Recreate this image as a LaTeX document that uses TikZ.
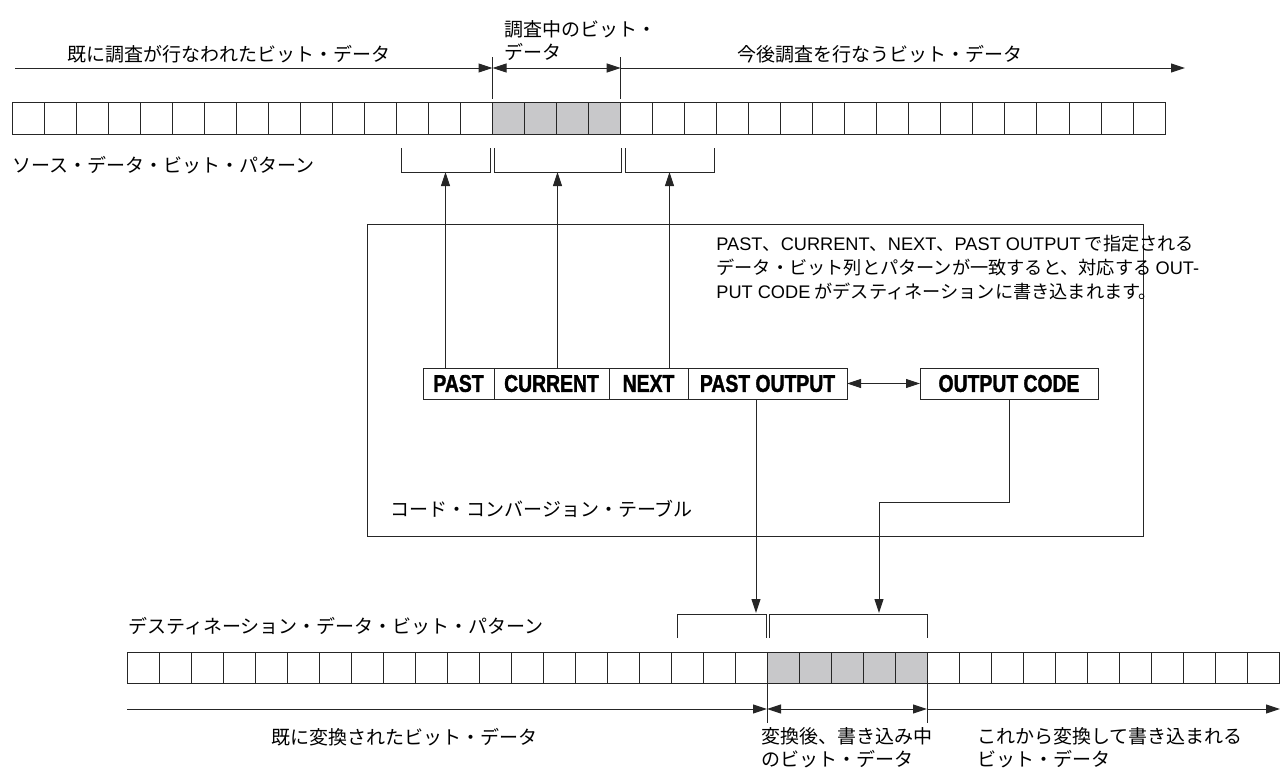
\documentclass[tikz,border=0pt]{standalone}
\usepackage{fontspec}
\setmainfont{Noto Sans CJK JP}
\newfontfamily\latfont{Liberation Sans}
\newfontfamily\fieldfont[FakeStretch=0.8,BoldFeatures={FakeBold=1.5}]{Liberation Sans}
\usetikzlibrary{arrows.meta,positioning}
\definecolor{bitgray}{RGB}{200,200,202}
\tikzset{
  bit/.style={draw=black!85, line width=0.5pt},
  arr/.style={draw=black!85, line width=0.5pt, -{Triangle[length=7pt,width=4.5pt]}},
  darr/.style={draw=black!85, line width=0.5pt, {Triangle[length=7pt,width=4.5pt]}-{Triangle[length=7pt,width=4.5pt]}},
  field/.style={draw=black!85, line width=0.5pt, minimum height=15.5pt, inner sep=0pt, outer sep=0pt,
    font=\fieldfont\bfseries\fontsize{12.1}{13}\selectfont},
  lbl/.style={inner sep=0pt, font=\fontsize{9.5}{11.5}\selectfont},
}
\begin{document}
\begin{tikzpicture}[x=0.5pt,y=-0.5pt]
  \useasboundingbox (0,0) rectangle (1280,772);

  % source bit pattern
  \fill[bitgray] (492.5,102) rectangle (620.6,134);
  \foreach \i in {0,...,35}
    \draw[bit] (12+\i*32.03,102) rectangle ++(32.03,32);
  \node[lbl, anchor=west] (srclabel) at (12,165) {ソース・データ・ビット・パターン};

  % ranges above the source row
  \coordinate (s0) at (15,68);
  \coordinate (s1) at (492.5,68);
  \coordinate (s2) at (620.6,68);
  \coordinate (s3) at (1185,68);
  \draw[arr] (s0) -- (s1);
  \draw[darr] (s1) -- (s2);
  \draw[arr] (s2) -- (s3);
  \draw[bit] (492.5,57) -- (492.5,99);
  \draw[bit] (620.6,57) -- (620.6,99);
  \node[lbl] (done) at (229,54) {既に調査が行なわれたビット・データ};
  \node[lbl, anchor=west, align=left] (now) at (504,41) {調査中のビット・\\データ};
  \node[lbl] (todo) at (880,54) {今後調査を行なうビット・データ};

  % brackets under the source row
  \draw[bit] (401,148) |- (490,172) -- (490,148);
  \draw[bit] (494,148) |- (621,172) -- (621,148);
  \draw[bit] (625,148) |- (714,172) -- (714,148);
  \coordinate (brpast) at (445.5,172);
  \coordinate (brcur) at (557.5,172);
  \coordinate (brnext) at (669.5,172);

  % code conversion table
  \draw[bit] (367,224) rectangle (1143,536);
  \node[lbl, anchor=north west, align=left, font=\fontsize{9.1}{12}\selectfont] (note) at (716,235)
    {{\latfont PAST}、{\latfont CURRENT}、{\latfont NEXT}、{\latfont PAST OUTPUT} で指定される\\
     データ・ビット列とパターンが一致すると、対応する {\latfont OUT-}\\
     {\latfont PUT CODE} がデスティネーションに書き込まれます。};
  \node[field, minimum width=35.5pt] (past) at (458.5,383.5) {PAST};
  \node[field, minimum width=57.5pt, right=0pt of past] (current) {CURRENT};
  \node[field, minimum width=39.5pt, right=0pt of current] (next) {NEXT};
  \node[field, minimum width=79.5pt, right=0pt of next] (pastout) {PAST OUTPUT};
  \node[field, minimum width=89pt] (outcode) at (1009,383.5) {OUTPUT CODE};
  \node[lbl, anchor=west] (tablelabel) at (390,509) {コード・コンバージョン・テーブル};

  \draw[arr] (past.north -| brpast) -- (brpast);
  \draw[arr] (current.north -| brcur) -- (brcur);
  \draw[arr] (next.north -| brnext) -- (brnext);
  \draw[darr] (pastout.east) -- (outcode.west);

  % destination bit pattern
  \coordinate (dstA) at (756,613);
  \coordinate (dstB) at (879,613);
  \draw[arr] (pastout.south -| dstA) -- (dstA);
  \draw[arr] (outcode.south) -- ++(0,103) -| (dstB);
  \draw[bit] (677,638) |- (766,614) -- (766,638);
  \draw[bit] (769,638) |- (927,614) -- (927,638);
  \node[lbl, anchor=west] (dstlabel) at (128,626) {デスティネーション・データ・ビット・パターン};

  \fill[bitgray] (767,652) rectangle (927,683);
  \foreach \i in {0,...,35}
    \draw[bit] (127+\i*32,652) rectangle ++(32,31);

  % ranges under the destination row
  \coordinate (d0) at (127,709);
  \coordinate (d1) at (767,709);
  \coordinate (d2) at (927,709);
  \coordinate (d3) at (1280,709);
  \draw[arr] (d0) -- (d1);
  \draw[darr] (d1) -- (d2);
  \draw[arr] (d2) -- (d3);
  \draw[bit] (767,683) -- (767,723);
  \draw[bit] (927,683) -- (927,723);
  \node[lbl] (converted) at (404,737) {既に変換されたビット・データ};
  \node[lbl, anchor=north west, align=left] (writing) at (761,727) {変換後、書き込み中\\のビット・データ};
  \node[lbl, anchor=north west, align=left] (towrite) at (977,727) {これから変換して書き込まれる\\ビット・データ};
\end{tikzpicture}
\end{document}
